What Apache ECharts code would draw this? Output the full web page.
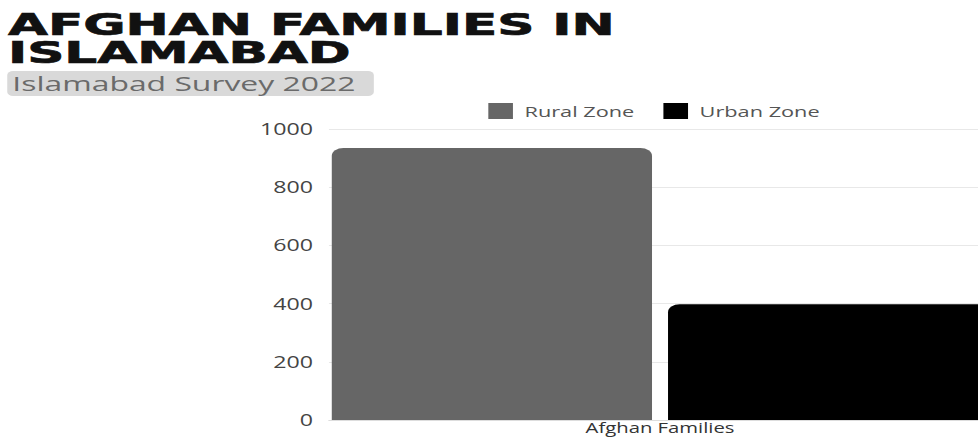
<!DOCTYPE html>
<html><head><meta charset="utf-8">
<script src="https://cdn.jsdelivr.net/npm/echarts@6/dist/echarts.min.js"></script>
<style>
html,body{margin:0;padding:0;background:#fff;overflow:hidden}
#wrap{width:978px;height:438px;overflow:hidden}
#c{width:686px;height:438px;transform:scaleX(1.449);transform-origin:0 0}
</style>
</head><body><div id="wrap"><div id="c"></div></div>
<script>
const categories = ["Afghan Families"];
const seriesNames = ["Rural Zone", "Urban Zone"];
const ruralValues = [935];
const urbanValues = [398];
const yTicks = [0, 200, 400, 600, 800, 1000];

const chart = echarts.init(document.getElementById('c'), null, {renderer: 'svg'});
chart.setOption({
  animation: false,
  backgroundColor: '#fff',
  graphic: [
    {type:'text', x:5.5, y:24, scaleX:1.15, style:{text:'AFGHAN FAMILIES IN', font:'bold 31px "DejaVu Sans"', fill:'#111', stroke:'#111', lineWidth:0.7, textVerticalAlign:'middle'}},
    {type:'text', x:5.5, y:52.5, scaleX:1.15, style:{text:'ISLAMABAD', font:'bold 31px "DejaVu Sans"', fill:'#111', stroke:'#111', lineWidth:0.7, textVerticalAlign:'middle'}},
    {type:'rect', shape:{x:5, y:71, width:253, height:25, r:4}, style:{fill:'#d9d9d9'}},
    {type:'text', x:8.5, y:83.5, scaleX:1.1, style:{text:'Islamabad Survey 2022', font:'20px "Open Sans"', fill:'#6a6a6a', textVerticalAlign:'middle'}}
  ],
  legend: {
    data: seriesNames, top: 98, left: 332, itemWidth: 17, itemHeight: 16, itemGap: 20,
    icon: 'rect',
    textStyle: {fontFamily:'Open Sans', fontSize:15, color:'#555', padding:[0,0,0,3]}
  },
  grid: {left: 227, right: 2, top: 129, bottom: 18},
  xAxis: {
    type: 'category', data: categories,
    axisLine: {lineStyle:{color:'#ddd'}}, axisTick:{show:false},
    axisLabel: {fontFamily:'Open Sans', fontSize:14, lineHeight:13, color:'#333', margin:1}
  },
  yAxis: {
    type: 'value', min: 0, max: 1000, interval: 200,
    axisLabel: {fontFamily:'Open Sans', fontSize:16, color:'#444', margin:11, formatter: v => String(v)},
    splitLine: {lineStyle:{color:'#e8e8e8'}},
    axisLine:{show:false}, axisTick:{show:false}
  },
  series: [
    {name: seriesNames[0], type:'bar', data: ruralValues, barWidth: 221, barGap:'5%', itemStyle:{color:'#666666', borderRadius:[8,8,0,0]}},
    {name: seriesNames[1], type:'bar', data: urbanValues, barWidth: 221, itemStyle:{color:'#000000', borderRadius:[8,8,0,0]}}
  ]
});
</script></body></html>
